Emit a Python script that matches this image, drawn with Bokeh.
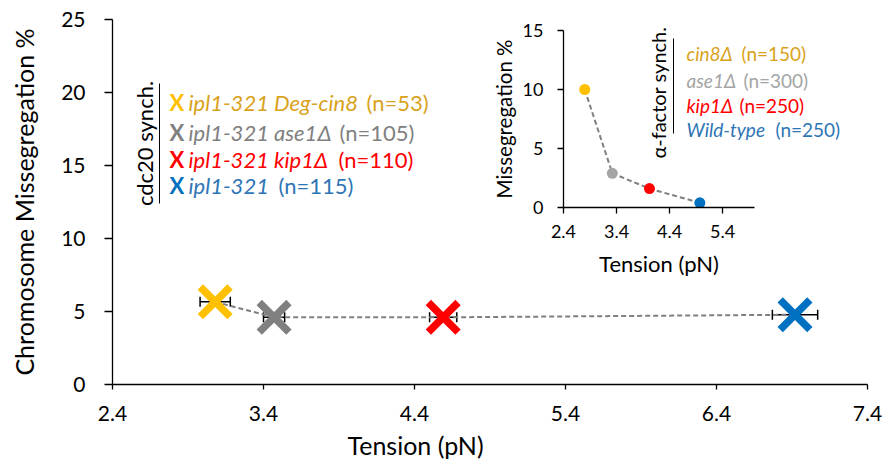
import math
from bokeh.plotting import figure
from bokeh.models import (Range1d, FixedTicker, NumeralTickFormatter, Whisker,
                          TeeHead, ColumnDataSource, Label, Title)
from bokeh.layouts import column
from bokeh.embed import file_html
from bokeh.resources import INLINE

# ---------------- data (main panel) ----------------
strains = ["ipl1-321 Deg-cin8", "ipl1-321 ase1Δ", "ipl1-321 kip1Δ", "ipl1-321"]
counts = ["(n=53)", "(n=105)", "(n=110)", "(n=115)"]
tension = [3.08, 3.47, 4.59, 6.92]
tension_err = [0.10, 0.07, 0.09, 0.15]
misseg = [5.66, 4.6, 4.6, 4.78]
marker_colors = ["#FFC000", "#808080", "#FF0000", "#0070C0"]
text_colors = ["#D9A21B", "#808080", "#FF0000", "#2E75B6"]
x_ticks = [2.4, 3.4, 4.4, 5.4, 6.4, 7.4]
y_ticks = [0, 5, 10, 15, 20, 25]

# ---------------- data (inset) ----------------
inset_strains = ["cin8Δ", "ase1Δ", "kip1Δ", "Wild-type"]
inset_counts = ["(n=150)", "(n=300)", "(n=250)", "(n=250)"]
inset_tension = [2.80, 3.32, 4.02, 4.97]
inset_misseg = [10.0, 2.9, 1.6, 0.4]
inset_colors = ["#FFC000", "#A5A5A5", "#FF0000", "#0070C0"]
inset_text_colors = ["#D9A21B", "#A5A5A5", "#FF0000", "#2E75B6"]
inset_x_ticks = [2.4, 3.4, 4.4, 5.4]
inset_y_ticks = [0, 5, 10, 15]

FONT = "Lato"
W, H = 887, 463
FL, FR, FT, FB = 112, 867, 19, 384
BL, BR = FL, W - FR          # left / right borders (shared by both figures in the column)

main = figure(width=W, height=H, x_range=Range1d(2.4, 7.4), y_range=Range1d(0, 25),
              output_backend="svg", toolbar_location=None,
              min_border_left=BL, min_border_right=BR,
              min_border_top=FT, min_border_bottom=H - FB)
main.outline_line_color = None
main.grid.visible = False
main.background_fill_color = None


def style_axis(ax, tick_size, title_size, tick_out, label_standoff, title_standoff):
    ax.axis_line_color = "black"
    ax.axis_line_width = 1.3
    ax.major_tick_line_color = "black"
    ax.major_tick_line_width = 1.3
    ax.major_tick_out = tick_out
    ax.major_tick_in = 0
    ax.minor_tick_line_color = None
    ax.major_label_text_font = FONT
    ax.major_label_text_font_size = f"{tick_size}px"
    ax.major_label_text_color = "black"
    ax.major_label_standoff = label_standoff
    ax.axis_label_text_font = FONT
    ax.axis_label_text_font_size = f"{title_size}px"
    ax.axis_label_text_font_style = "normal"
    ax.axis_label_text_color = "black"
    ax.axis_label_standoff = title_standoff


main.xaxis.ticker = FixedTicker(ticks=x_ticks)
main.yaxis.ticker = FixedTicker(ticks=y_ticks)
main.xaxis.formatter = NumeralTickFormatter(format="0.0")
main.yaxis.axis_label = "Chromosome Missegregation %"
style_axis(main.xaxis[0], 21, 25, 5, 16, 8)
style_axis(main.yaxis[0], 21, 25, 8, 19, 19)
main.xaxis.major_label_text_line_height = 1.0

# x-axis title, placed left of centre as in the original
main.add_layout(Title(text="Tension (pN)", align="left", offset=235, text_font=FONT,
                      text_font_size="25px", text_font_style="normal", text_color="black",
                      text_line_height=1.0, standoff=8), "below")

src = ColumnDataSource(dict(x=tension, y=misseg, lo=[t - e for t, e in zip(tension, tension_err)],
                            hi=[t + e for t, e in zip(tension, tension_err)], c=marker_colors))
main.line("x", "y", source=src, line_color="#7F7F7F", line_width=2, line_dash="5 3")
main.add_layout(Whisker(source=src, base="y", lower="lo", upper="hi", dimension="width",
                        line_color="black", line_width=1.5,
                        lower_head=TeeHead(size=10, line_color="black", line_width=1.5),
                        upper_head=TeeHead(size=10, line_color="black", line_width=1.5)))
main.scatter("x", "y", source=src, marker="x", size=42, line_color="c", line_width=7.5)


def mx(px):
    return 2.4 + (px - FL) / (FR - FL) * 5.0


def my(py):
    return (FB - py) / (FB - FT) * 25.0


def lab(px, py, text, color, size, style="normal", angle=0.0, align="left"):
    main.add_layout(Label(x=mx(px), y=my(py), text=text, text_color=color,
                          text_font=FONT, text_font_size=f"{size}px", text_font_style=style,
                          text_baseline="middle", text_align=align, angle=angle))


# main legend
LEG = 22
rows = [102, 131.5, 158.5, 185]
count_x = [366, 339, 338, 278]
for i in range(4):
    lab(169, rows[i], "X", marker_colors[i], LEG, "bold")
    lab(188, rows[i], strains[i], text_colors[i], LEG, "italic")
    lab(count_x[i], rows[i], counts[i], text_colors[i], LEG)
lab(144, 143, "cdc20 synch.", "black", LEG, angle=math.pi / 2, align="center")
main.line([mx(159), mx(159)], [my(83), my(203)], line_color="black", line_width=1)

# inset legend (drawn in main canvas)
ILEG = 19
irows = [53, 80, 105, 129]
icount_x = [741, 743, 739, 775]
for i in range(4):
    lab(686, irows[i], inset_strains[i], inset_text_colors[i], ILEG, "italic")
    lab(icount_x[i], irows[i], inset_counts[i], inset_text_colors[i], ILEG)
lab(657, 92, "α-factor synch.", "black", 20, angle=math.pi / 2, align="center")
main.line([mx(673), mx(673)], [my(38), my(133)], line_color="black", line_width=1)

# ---------------- inset figure ----------------
IFL, IFR, IFT, IFB = 563, 754, 30, 207
IL, IT = IFL - BL, 0
iw = IFR + BR - IL
ih = IFB + 75 - IT
inset = figure(width=iw, height=ih, x_range=Range1d(2.4, 6.0), y_range=Range1d(0, 15),
               output_backend="svg", toolbar_location=None,
               min_border_left=BL, min_border_right=BR,
               min_border_top=IFT - IT, min_border_bottom=IT + ih - IFB,
               styles={"position": "absolute", "left": f"{IL}px", "top": f"{IT}px"})
inset.outline_line_color = None
inset.grid.visible = False
inset.background_fill_color = None
inset.border_fill_color = None
inset.xaxis.ticker = FixedTicker(ticks=inset_x_ticks)
inset.yaxis.ticker = FixedTicker(ticks=inset_y_ticks)
inset.xaxis.formatter = NumeralTickFormatter(format="0.0")
inset.xaxis.axis_label = "Tension (pN)"
inset.yaxis.axis_label = "Missegregation %"
style_axis(inset.xaxis[0], 18, 22, 6, 11, 9)
style_axis(inset.yaxis[0], 18, 20.5, 6, 14, 4)
inset.line(inset_tension, inset_misseg, line_color="#7F7F7F", line_width=2, line_dash="5 3")
inset.scatter(inset_tension, inset_misseg, size=11, color=inset_colors, line_color=None)

layout = column(main, inset)
open("out.html", "w").write(file_html(layout, INLINE))
